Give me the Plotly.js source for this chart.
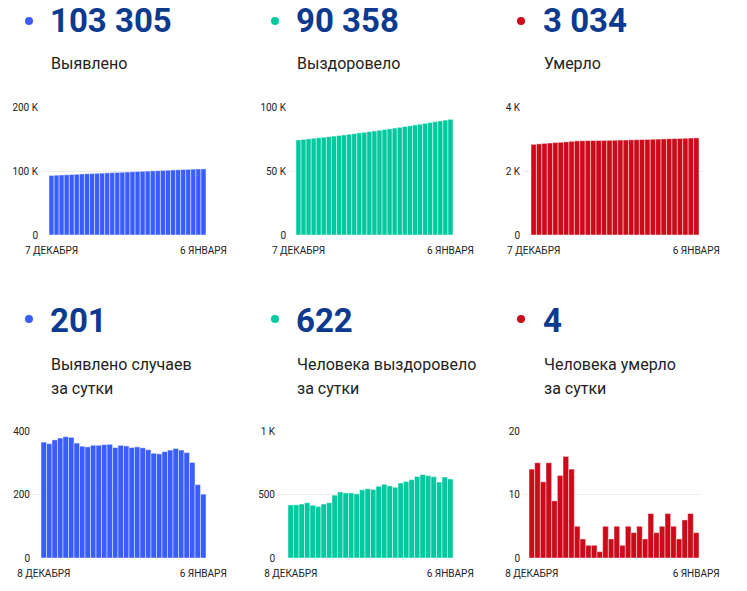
<!DOCTYPE html>
<html>
<head>
<meta charset="utf-8">
<script src="https://cdn.plot.ly/plotly-3.0.1.min.js"></script>
<style>
html,body{margin:0;padding:0;background:#fff;}
#chart{width:747px;height:591px;}
</style>
</head>
<body>
<div id="chart"></div>
<script>
// ---------- DATA ----------
const datesCum = ['7 дек','8 дек','9 дек','10 дек','11 дек','12 дек','13 дек','14 дек','15 дек','16 дек','17 дек','18 дек','19 дек','20 дек','21 дек','22 дек','23 дек','24 дек','25 дек','26 дек','27 дек','28 дек','29 дек','30 дек','31 дек','1 янв','2 янв','3 янв','4 янв','5 янв','6 янв'];
const datesDaily = datesCum.slice(1);

const casesTotal = [93054,93419,93779,94151,94529,94911,95291,95653,96005,96355,96710,97065,97422,97780,98128,98483,98836,99184,99534,99881,100222,100552,100880,101215,101555,101900,102240,102572,102873,103104,103305];
const recoveredTotal = [74292,74710,75128,75553,75988,76403,76808,77233,77668,78163,78683,79195,79707,80212,80749,81294,81834,82399,82979,83547,84104,84694,85296,85913,86555,87212,87860,88500,89098,89736,90358];
const deathsTotal = [2833,2847,2862,2874,2889,2898,2911,2927,2941,2946,2949,2951,2953,2954,2959,2962,2967,2969,2974,2978,2983,2986,2993,2997,3002,3009,3014,3017,3023,3030,3034];

const casesDaily = [365,360,372,378,382,380,362,352,350,355,355,357,358,348,355,353,348,350,347,341,330,328,335,340,345,340,332,301,231,201];
const recoveredDaily = [418,418,425,435,415,405,425,435,495,520,512,512,505,537,545,540,565,580,568,557,590,602,617,642,657,648,640,598,638,622];
const deathsDaily = [14,15,12,15,9,13,16,14,5,3,2,2,1,5,3,5,2,5,4,5,3,7,4,5,7,5,3,6,7,4];

const headlineNumbers = ['103 305','90 358','3 034','201','622','4'];
const headlineLabels = [['Выявлено'],['Выздоровело'],['Умерло'],['Выявлено случаев','за сутки'],['Человека выздоровело','за сутки'],['Человека умерло','за сутки']];

const xTickCum = ['7 ДЕКАБРЯ','6 ЯНВАРЯ'];
const xTickDaily = ['8 ДЕКАБРЯ','6 ЯНВАРЯ'];

const yTicks = [[0,100000,200000],[0,50000,100000],[0,2000,4000],[0,200,400],[0,500,1000],[0,10,20]];
const yTickText = [['0','100 K','200 K'],['0','50 K','100 K'],['0','2 K','4 K'],['0','200','400'],['0','500','1 K'],['0','10','20']];

// ---------- STYLE / LAYOUT ----------
const W = 747, H = 591;
const px = x => x / W;
const py = y => 1 - y / H;

const BLUE = '#3a5dff', TEAL = '#00c9a0', RED = '#cc0a1a';
const NUMCOL = '#0b3a8f';

const panels = [
  {x: datesCum,   y: casesTotal,     color: BLUE, gx:[41,207],  bx:[49,206],  y0:235, yt:107, ticks:xTickCum},
  {x: datesCum,   y: recoveredTotal, color: TEAL, gx:[289,453], bx:[296,453], y0:235, yt:107, ticks:xTickCum},
  {x: datesCum,   y: deathsTotal,    color: RED,  gx:[523,703], bx:[531,699], y0:235, yt:107, ticks:xTickCum},
  {x: datesDaily, y: casesDaily,     color: BLUE, gx:[33,207],  bx:[41,206],  y0:558, yt:431, ticks:xTickDaily},
  {x: datesDaily, y: recoveredDaily, color: TEAL, gx:[278,453], bx:[288,453], y0:558, yt:431, ticks:xTickDaily},
  {x: datesDaily, y: deathsDaily,    color: RED,  gx:[523,700], bx:[529,699], y0:558, yt:431, ticks:xTickDaily}
];

const textCols = [
  {dot:29, txt:50}, {dot:275, txt:296}, {dot:521, txt:543}
];

const traces = [];
const layout = {
  width: W, height: H,
  margin: {l:0, r:0, t:0, b:0},
  paper_bgcolor: '#fff', plot_bgcolor: '#fff',
  showlegend: false,
  bargap: 0,
  font: {family: 'Roboto, Arial, sans-serif', color: '#333'},
  annotations: [], shapes: []
};

panels.forEach((p, i) => {
  const k = i === 0 ? '' : String(i + 1);
  const n = p.y.length;
  const slot = (p.bx[1] - p.bx[0]) / n;
  const r0 = -0.5 - (p.bx[0] - p.gx[0]) / slot;
  const r1 = n - 0.5 + (p.gx[1] - p.bx[1]) / slot;
  traces.push({
    type: 'bar', x: p.x, y: p.y,
    xaxis: 'x' + k, yaxis: 'y' + k,
    marker: {color: p.color, line: {color: 'rgba(255,255,255,0.45)', width: 1}},
    hoverinfo: 'x+y'
  });
  layout['xaxis' + k] = {
    domain: [px(p.gx[0]), px(p.gx[1])],
    anchor: 'y' + k,
    type: 'category',
    range: [r0, r1],
    showgrid: false, zeroline: false, showline: false,
    tickmode: 'array',
    tickvals: [p.x[0], p.x[n - 1]],
    ticktext: p.ticks,
    ticks: '',
    ticklabelstandoff: 8,
    tickfont: {size: 10, color: '#222', family: 'Roboto, Arial, sans-serif'},
    fixedrange: true
  };
  layout['yaxis' + k] = {
    domain: [py(p.y0), py(p.yt)],
    anchor: 'x' + k,
    range: [0, yTicks[i][2]],
    tickmode: 'array',
    tickvals: yTicks[i],
    ticktext: yTickText[i],
    showgrid: true, gridcolor: '#ececec', gridwidth: 1,
    zeroline: false, showline: false, ticks: '',
    ticklabelstandoff: 2,
    tickfont: {size: 10, color: '#222', family: 'Roboto, Arial, sans-serif'},
    fixedrange: true
  };
});

// headline numbers, dots and labels
const dotColors = [BLUE, TEAL, RED, BLUE, TEAL, RED];
for (let i = 0; i < 6; i++) {
  const col = textCols[i % 3];
  const top = i < 3;
  const numY = top ? 20 : 320;
  const lblY = top ? 64 : 364;
  layout.shapes.push({
    type: 'circle', xref: 'paper', yref: 'paper',
    x0: px(col.dot - 4), x1: px(col.dot + 4),
    y0: py((top ? 21 : 319) + 4), y1: py((top ? 21 : 319) - 4),
    fillcolor: dotColors[i], line: {width: 0}
  });
  layout.annotations.push({
    xref: 'paper', yref: 'paper', x: px(col.txt - 2), y: py(numY),
    xanchor: 'left', yanchor: 'middle', showarrow: false,
    text: '<b>' + headlineNumbers[i] + '</b>',
    font: {size: 33, color: NUMCOL, family: 'Roboto, Arial, sans-serif'}
  });
  headlineLabels[i].forEach((t, j) => {
    layout.annotations.push({
      xref: 'paper', yref: 'paper', x: px(col.txt - 1), y: py(lblY + j * 24),
      xanchor: 'left', yanchor: 'middle', showarrow: false,
      text: t,
      font: {size: 16, color: '#222', family: 'Roboto, Arial, sans-serif'}
    });
  });
}

Plotly.newPlot('chart', traces, layout, {displayModeBar: false, staticPlot: true});
</script>
</body>
</html>
